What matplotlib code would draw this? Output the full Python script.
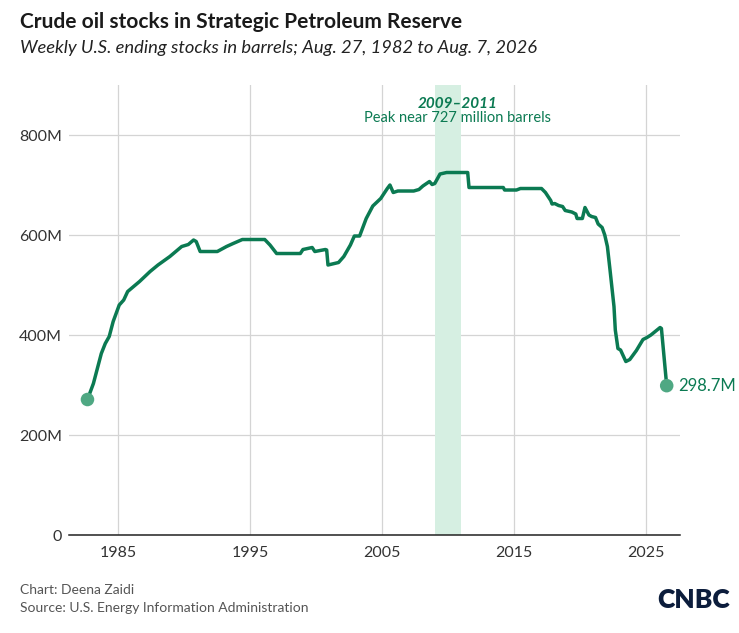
import numpy as np
import matplotlib.pyplot as plt

plt.rcParams['font.family'] = ['Lato', 'DejaVu Sans']

# weekly SPR stocks (decimal year, million barrels)
years = [1982.65, 1983.1, 1983.7, 1984.0, 1984.3, 1984.6, 1985.06, 1985.4, 1985.7,
         1986.6, 1987.4, 1988.0, 1988.9, 1989.8, 1990.3, 1990.7, 1990.9, 1991.2,
         1992.5, 1993.2, 1993.7, 1994.4, 1996.1, 1996.5, 1997.0, 1998.8, 1999.0,
         1999.7, 1999.9, 2000.7, 2000.8, 2000.9, 2001.7, 2002.1, 2002.6, 2002.9,
         2003.3, 2003.8, 2004.3, 2004.9, 2005.4, 2005.6, 2005.85, 2006.2, 2007.4,
         2007.8, 2008.1, 2008.6, 2008.8, 2009.0, 2009.4, 2009.9, 2011.5, 2011.6,
         2012.4, 2014.2, 2014.3, 2015.2, 2015.5, 2017.1, 2017.4, 2017.8, 2017.9,
         2018.1, 2018.4, 2018.7, 2018.9, 2019.4, 2019.7, 2019.8, 2020.2, 2020.4,
         2020.7, 2020.9, 2021.2, 2021.4, 2021.7, 2021.9, 2022.1, 2022.3, 2022.6,
         2022.7, 2022.9, 2023.1, 2023.5, 2023.8, 2024.3, 2024.8, 2025.1, 2025.4,
         2026.1, 2026.2, 2026.6]
stocks = [271, 303, 363, 383, 397, 427, 460, 470, 487,
          507, 527, 540, 557, 577, 581, 590, 587, 567,
          567, 577, 583, 591, 591, 580, 563, 563, 571,
          575, 567, 571, 570, 540, 545, 557, 580, 598,
          598, 633, 658, 673, 693, 700, 685, 688, 688,
          691, 698, 707, 701, 703, 722, 725, 725, 695,
          695, 695, 690, 690, 693, 693, 685, 669, 662,
          663, 659, 657, 649, 646, 642, 633, 633, 655,
          640, 637, 635, 622, 615, 600, 577, 530, 457,
          410, 373, 370, 347, 351, 369, 391, 395, 400,
          415, 413, 298.7]

x_ticks = [1985, 1995, 2005, 2015, 2025]
y_ticks = [0, 200, 400, 600, 800]
y_labels = ['0', '200M', '400M', '600M', '800M']
peak_span = (2009, 2011)

green = '#0b7a52'

fig = plt.figure(figsize=(7.39, 6.33), dpi=100)
ax = fig.add_axes([0.0934, 0.1548, 0.8266, 0.7109])

ax.axvspan(peak_span[0], peak_span[1], color='#d6efe2', lw=0, zorder=1)
ax.plot(years, stocks, color=green, lw=2.5, zorder=3, solid_joinstyle='round')
ax.scatter([years[0], years[-1]], [stocks[0], stocks[-1]], s=95, color='#4fa883',
           zorder=4, edgecolor='none')

ax.set_xlim(1981.25, 2027.6)
ax.set_ylim(0, 900)
ax.set_xticks(x_ticks)
ax.set_xticklabels([str(t) for t in x_ticks])
ax.set_yticks(y_ticks)
ax.set_yticklabels(y_labels)
ax.grid(True, color='#d4d4d4', lw=0.9, zorder=0)
ax.set_axisbelow(True)
for s in ['top', 'right', 'left']:
    ax.spines[s].set_visible(False)
ax.spines['bottom'].set_color('#222222')
ax.spines['bottom'].set_linewidth(1.1)
ax.spines['bottom'].set_zorder(5)
ax.tick_params(length=0, labelsize=11.5, labelcolor='#333333')
ax.tick_params(axis='x', pad=8)
ax.tick_params(axis='y', pad=5)

ax.text(2010.7, 862, '2009–2011', ha='center', va='center', color=green,
        fontsize=11, fontweight='bold', style='italic')
ax.text(2010.7, 834, 'Peak near 727 million barrels', ha='center', va='center',
        color=green, fontsize=10.5)
ax.text(years[-1] + 0.9, stocks[-1], f'{stocks[-1]}M', ha='left', va='center',
        color=green, fontsize=12)

fig.text(20 / 739, 1 - 22 / 633, 'Crude oil stocks in Strategic Petroleum Reserve',
         fontsize=15, fontweight='bold', color='#1a1a1a', va='center')
fig.text(20 / 739, 1 - 48 / 633,
         'Weekly U.S. ending stocks in barrels; Aug. 27, 1982 to Aug. 7, 2026',
         fontsize=13.2, style='italic', color='#222222', va='center')
fig.text(20 / 739, 1 - 590 / 633, 'Chart: Deena Zaidi', fontsize=10, color='#555555',
         va='center')
fig.text(20 / 739, 1 - 608 / 633, 'Source: U.S. Energy Information Administration',
         fontsize=10, color='#555555', va='center')
fig.text(730 / 739, 1 - 600 / 633, 'CNBC', fontsize=19, fontweight='heavy',
         color='#0c1d3c', ha='right', va='center')

fig.savefig('out.png', dpi=100)
